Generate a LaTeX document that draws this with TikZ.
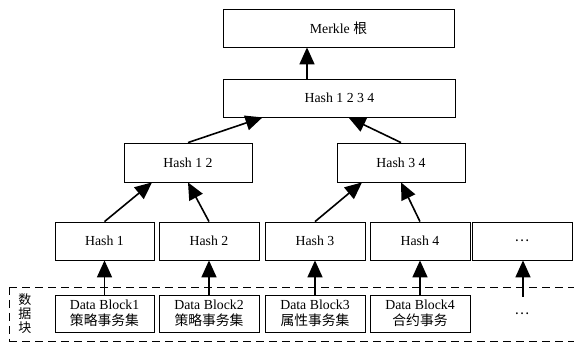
\documentclass[tikz,border=0pt]{standalone}
\usepackage{fontspec}
\setmainfont{Liberation Serif}
\newfontfamily\cjk{Noto Sans CJK SC}
\usetikzlibrary{arrows.meta}
\begin{document}
\begin{tikzpicture}[x=1pt,y=-1pt,
  box/.style={draw,line width=0.8pt,inner sep=0pt,font=\fontsize{13.8}{15.5}\selectfont,align=center},
  arr/.style={line width=1.6pt,-{Triangle[width=15pt,length=17pt]}},
  dbox/.style={draw,dashed,line width=0.9pt,dash pattern=on 8pt off 5pt}]
\useasboundingbox (0,0) rectangle (574,342);
% dashed group
\draw[dbox] (9,287) -- (580,287);
\draw[dbox] (9,341) -- (580,341);
\draw[dbox] (9,287) -- (9,341);
\node[font=\fontsize{13}{15}\selectfont\cjk,align=center,inner sep=0pt] (lbl) at (25,314) {数\\[-1pt]据\\[-1pt]块};
% boxes
\node[box,minimum width=231pt,minimum height=38pt] (root) at (338.5,28) {Merkle {\cjk 根}};
\node[box,minimum width=232pt,minimum height=38pt] (h1234) at (339.5,98) {Hash 1 2 3 4};
\node[box,minimum width=128pt,minimum height=39pt] (h12) at (188,162.5) {Hash 1 2};
\node[box,minimum width=128pt,minimum height=39pt] (h34) at (401,162.5) {Hash 3 4};
\node[box,minimum width=99pt,minimum height=38pt] (h1) at (104.5,241) {Hash 1};
\node[box,minimum width=100pt,minimum height=38pt] (h2) at (209,241) {Hash 2};
\node[box,minimum width=100pt,minimum height=38pt] (h3) at (315,241) {Hash 3};
\node[box,minimum width=100pt,minimum height=38pt] (h4) at (420,241) {Hash 4};
\node[box,minimum width=100pt,minimum height=38pt] (h5) at (522,241) {{\cjk …}};
\node[box,minimum width=99pt,minimum height=37pt] (d1) at (104.5,313.5) {Data Block1\\{\cjk 策略事务集}};
\node[box,minimum width=100pt,minimum height=37pt] (d2) at (209,313.5) {Data Block2\\{\cjk 策略事务集}};
\node[box,minimum width=100pt,minimum height=37pt] (d3) at (315,313.5) {Data Block3\\{\cjk 属性事务集}};
\node[box,minimum width=100pt,minimum height=37pt] (d4) at (420,313.5) {Data Block4\\{\cjk 合约事务}};
\node[font=\fontsize{13.8}{15.5}\selectfont\cjk,inner sep=0pt] (d5) at (522,313.5) {…};
\coordinate (d5s) at (523,297);
% arrows
\draw[arr] (d1.north) -- (h1.south);
\draw[arr] (d2.north) -- (h2.south);
\draw[arr] (d3.north) -- (h3.south);
\draw[arr] (d4.north) -- (h4.south);
\draw[arr] (d5s) -- (h5.south -| d5s);
\draw[arr] (h1.north) -- ([xshift=-36pt]h12.south);
\draw[arr] (h2.north) -- (h12.south);
\draw[arr] (h3.north) -- ([xshift=-39pt]h34.south);
\draw[arr] (h4.north) -- (h34.south);
\draw[arr] (h12.north) -- ([xshift=-77pt]h1234.south);
\draw[arr] (h34.north) -- ([xshift=9pt]h1234.south);
\draw[arr] (h1234.north -| 307,0) -- (root.south -| 307,0);
\end{tikzpicture}
\end{document}
